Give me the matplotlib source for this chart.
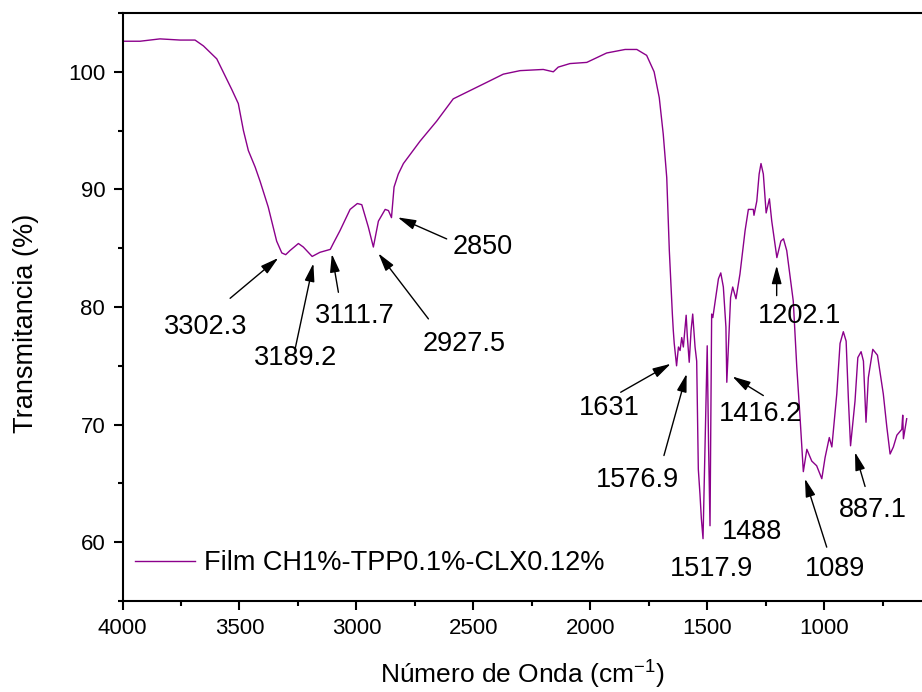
import matplotlib
matplotlib.use("Agg")
import matplotlib.pyplot as plt
from matplotlib.patches import ArrowStyle
from matplotlib.ticker import MultipleLocator

plt.rcParams["font.family"] = ["Liberation Sans", "DejaVu Sans"]

# FTIR spectrum: wavenumber (cm-1) and transmittance (%)
wavenumber = [
    4000, 3925, 3840, 3754, 3690, 3654, 3597, 3533, 3505, 3483, 3462, 3433,
    3412, 3377, 3341, 3319, 3302.3, 3284, 3248, 3227, 3189.2, 3156, 3111.7,
    3099, 3070, 3027, 2996, 2977, 2949, 2927.5, 2906, 2877, 2863, 2850, 2839,
    2821, 2799, 2728, 2657, 2586, 2514, 2443, 2372, 2300, 2201, 2158, 2137,
    2087, 2015, 1930, 1851, 1801, 1759, 1727, 1705, 1688, 1673, 1662, 1649,
    1645, 1641, 1631, 1623, 1616, 1609, 1602, 1590, 1585, 1576.9, 1569, 1562,
    1552, 1545, 1538, 1531, 1525, 1517.9, 1509, 1500, 1494, 1488, 1481, 1476,
    1462, 1452, 1442, 1431, 1420, 1416.2, 1400, 1391, 1377, 1360, 1338, 1324,
    1303, 1300, 1288, 1278, 1270, 1260, 1248, 1234, 1224, 1202.1, 1185, 1174,
    1160, 1132, 1117, 1103, 1089, 1074, 1053, 1032, 1010, 996, 978, 967, 946,
    932, 918, 906, 896, 887.1, 868, 856, 842, 832, 821, 811, 792, 772, 747,
    732, 718, 704, 689, 668, 664, 661, 647,
]
transmittance = [
    102.6, 102.6, 102.8, 102.7, 102.7, 102.2, 101.1, 98.5, 97.3, 95.0, 93.3,
    91.9, 90.7, 88.5, 85.6, 84.6, 84.45, 84.8, 85.4, 85.1, 84.3, 84.65, 84.9,
    85.4, 86.5, 88.3, 88.8, 88.7, 86.8, 85.1, 87.3, 88.3, 88.2, 87.6, 90.2,
    91.3, 92.2, 94.1, 95.8, 97.7, 98.4, 99.1, 99.8, 100.1, 100.2, 100.0,
    100.4, 100.7, 100.8, 101.6, 101.9, 101.9, 101.4, 100.0, 97.8, 94.7, 91.0,
    84.8, 79.4, 78.0, 76.9, 75.0, 76.6, 76.3, 77.4, 76.6, 79.3, 77.5, 75.3,
    78.0, 79.4, 76.6, 75.4, 66.2, 64.1, 62.0, 60.3, 68.6, 76.7, 68.0, 61.4,
    79.4, 79.1, 81.0, 82.4, 82.9, 81.7, 78.3, 73.6, 80.8, 81.7, 80.7, 82.8,
    86.5, 88.3, 88.3, 87.8, 89.0, 91.3, 92.2, 91.3, 88.0, 89.2, 87.3, 84.2,
    85.6, 85.8, 84.8, 80.5, 74.9, 70.6, 66.0, 67.9, 66.9, 66.5, 65.4, 67.2,
    68.9, 68.1, 72.6, 76.9, 77.9, 77.1, 72.0, 68.2, 72.0, 75.7, 76.2, 75.4,
    70.2, 74.0, 76.4, 75.9, 72.6, 69.8, 67.5, 68.1, 69.1, 69.6, 70.8, 68.8,
    70.5,
]
series_label = "Film CH1%-TPP0.1%-CLX0.12%"

# Band labels: text, arrow tip, arrow tail, text centre (data coordinates)
band_labels = ["3302.3", "3189.2", "3111.7", "2927.5", "2850", "1631",
               "1576.9", "1416.2", "1202.1", "1488", "1517.9", "1089", "887.1"]
arrow_tips = [(3334, 84.17), (3184, 83.71), (3105, 84.51), (2906, 84.56),
              (2823, 87.62), (1656, 75.17), (1588, 74.32), (1392, 74.09),
              (1203, 83.52), None, None, (1082, 65.40), (868, 67.65)]
arrow_tails = [(3540, 80.74), (3262, 76.44), (3077, 81.25), (2692, 78.99),
               (2614, 85.79), (1870, 72.75), (1685, 67.37), (1260, 72.47),
               (1203, 80.97), None, None, (989, 59.58), (825, 64.74)]
text_centres = [(3644, 78.27), (3262, 75.7), (3006, 79.27), (2540, 76.87),
                (2458, 85.07), (1920, 71.37), (1798, 65.25), (1274, 70.94),
                (1103, 79.27), (1310, 60.86), (1481, 57.75), (953, 57.75),
                (791, 62.70)]

x_ticks = [4000, 3500, 3000, 2500, 2000, 1500, 1000]
y_ticks = [60, 70, 80, 90, 100]

fig = plt.figure(figsize=(9.22, 6.92), dpi=100)
ax = fig.add_axes([0.1329, 0.1315, 0.8675, 0.8497])

line_color = "#8b008b"
ax.plot(wavenumber, transmittance, color=line_color, lw=1.0, label=series_label)

ax.set_xlim(4000, 580)
ax.set_ylim(55, 105)
ax.set_xticks(x_ticks)
ax.set_yticks(y_ticks)
ax.xaxis.set_minor_locator(MultipleLocator(250))
ax.yaxis.set_minor_locator(MultipleLocator(5))

for side in ("left", "bottom", "top"):
    ax.spines[side].set_linewidth(1.5)
ax.spines["right"].set_visible(False)
ax.tick_params(which="major", direction="out", length=6.5, width=1.5,
               labelsize=16, pad=6)
ax.tick_params(which="minor", direction="out", length=3.6, width=1.5)
ax.tick_params(top=False, right=False, which="both")

ax.set_xlabel("Número de Onda (cm$^{\\mathregular{-1}}$)", fontsize=19)
ax.set_ylabel("Transmitancia (%)", fontsize=19.5)
ax.xaxis.set_label_coords(0.5, -0.095)
ax.yaxis.set_label_coords(-0.105, 0.473)

arrow_style = ArrowStyle("-|>", head_length=0.55, head_width=0.15)
for text, tip, tail, centre in zip(band_labels, arrow_tips, arrow_tails,
                                   text_centres):
    if tip is not None:
        ax.annotate("", xy=tip, xytext=tail,
                    arrowprops=dict(arrowstyle=arrow_style, color="black",
                                    lw=1.0, mutation_scale=20,
                                    shrinkA=0, shrinkB=0))
    ax.text(centre[0], centre[1], text, fontsize=19.5, ha="center",
            va="center", color="black")

ax.legend(loc="center left", bbox_to_anchor=(0.0156, 0.0646), frameon=False,
          fontsize=19.5, handlelength=2.23, handletextpad=0.32,
          borderpad=0, borderaxespad=0)

fig.savefig("out.png", dpi=100)
